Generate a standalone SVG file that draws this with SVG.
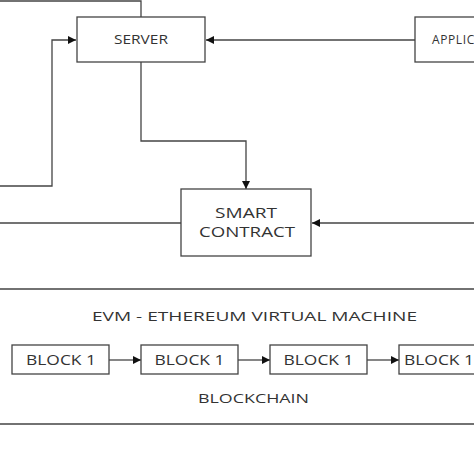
<svg xmlns="http://www.w3.org/2000/svg" width="474" height="474" viewBox="0 0 474 474">
<defs>
<marker id="arr" viewBox="0 0 10 10" refX="10" refY="5" markerWidth="8" markerHeight="8" markerUnits="userSpaceOnUse" orient="auto"><path d="M0,0 L10,5 L0,10 z" fill="#111"/></marker>
<style>
.box{fill:#fff;stroke:#444;stroke-width:1.3}
.ln{fill:none;stroke:#444;stroke-width:1.3}
.t{font-family:"Open Sans","Liberation Sans",sans-serif;fill:#333;text-anchor:middle}
</style>
</defs>
<rect width="474" height="474" fill="#fff"/>
<g id="connectors">
<path class="ln" d="M0,1 H141 V17"/>
<path class="ln" d="M0,186 H52 V40 H76" marker-end="url(#arr)"/>
<path class="ln" d="M415,40 H206" marker-end="url(#arr)"/>
<path class="ln" d="M141,62 V141 H246 V189" marker-end="url(#arr)"/>
<path class="ln" d="M0,223 H181"/>
<path class="ln" d="M474,223 H312" marker-end="url(#arr)"/>
<path class="ln" d="M109,360 H141" marker-end="url(#arr)"/>
<path class="ln" d="M238,360 H270" marker-end="url(#arr)"/>
<path class="ln" d="M367,360 H399" marker-end="url(#arr)"/>
</g>
<g id="server"><rect class="box" x="77" y="17" width="128" height="45"/><text class="t" x="141" y="44" font-size="12" textLength="54" lengthAdjust="spacingAndGlyphs">SERVER</text></g>
<g id="application"><rect class="box" x="415" y="17" width="80" height="45"/><text class="t" x="432" y="44" font-size="12" letter-spacing="0.6" style="text-anchor:start">APPLICATION</text></g>
<g id="smart-contract"><rect class="box" x="181" y="189" width="130" height="67"/><text class="t" x="246" y="218" font-size="14" textLength="62" lengthAdjust="spacingAndGlyphs">SMART</text><text class="t" x="247" y="237" font-size="14" textLength="96" lengthAdjust="spacingAndGlyphs">CONTRACT</text></g>
<g id="evm">
<path class="ln" d="M0,289 H474 M0,424 H474"/>
<text class="t" x="254.5" y="321" font-size="13.5" textLength="325" lengthAdjust="spacingAndGlyphs">EVM - ETHEREUM VIRTUAL MACHINE</text>
<text class="t" x="253.5" y="403" font-size="13.5" textLength="111" lengthAdjust="spacingAndGlyphs">BLOCKCHAIN</text>
</g>
<g id="block-a"><rect class="box" x="12" y="345" width="97" height="29"/><text class="t" x="61" y="365" font-size="14.5" textLength="70" lengthAdjust="spacingAndGlyphs">BLOCK 1</text></g>
<g id="block-b"><rect class="box" x="141" y="345" width="97" height="29"/><text class="t" x="189.5" y="365" font-size="14.5" textLength="70" lengthAdjust="spacingAndGlyphs">BLOCK 1</text></g>
<g id="block-c"><rect class="box" x="270" y="345" width="97" height="29"/><text class="t" x="318.5" y="365" font-size="14.5" textLength="70" lengthAdjust="spacingAndGlyphs">BLOCK 1</text></g>
<g id="block-d"><rect class="box" x="399" y="345" width="97" height="29"/><text class="t" x="439" y="365" font-size="14.5" textLength="70" lengthAdjust="spacingAndGlyphs">BLOCK 1</text></g>
</svg>
